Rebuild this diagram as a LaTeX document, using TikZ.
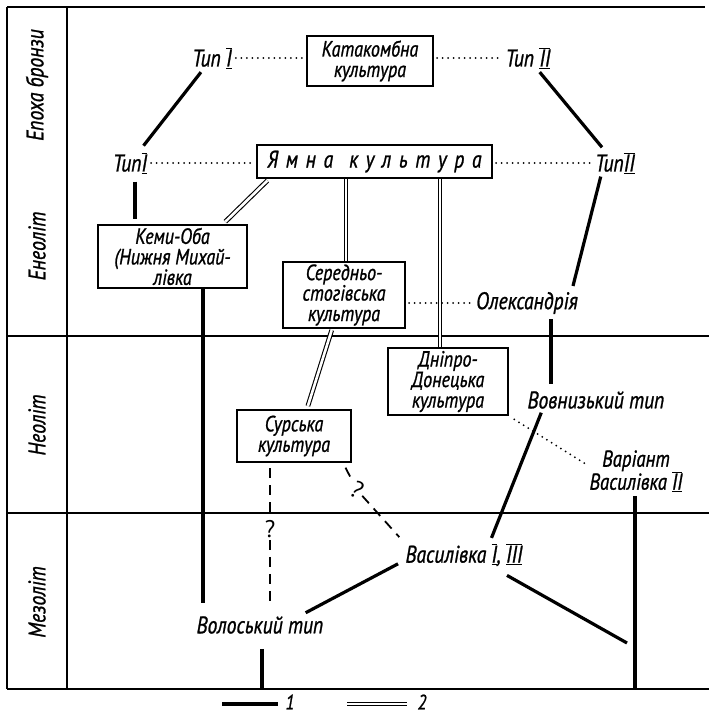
\documentclass[tikz,border=0pt]{standalone}
\usepackage{fontspec}
\setmainfont[ItalicFeatures={FakeStretch=0.82,FakeBold=1}]{PT Sans}
\usetikzlibrary{calc}
\newcommand\rnum[1]{$\overline{\underline{\hbox{#1}}}$}
\begin{document}
\begin{tikzpicture}[x=1pt,y=-1pt,
  every node/.style={font=\fontsize{24}{22}\selectfont\itshape, inner sep=2pt},
  box/.style={draw, line width=2.4pt, align=center, inner sep=0pt, font=\fontsize{22}{20.5}\selectfont\itshape\addfontfeature{FakeStretch=0.94}},
  lbl/.style={align=center, font=\fontsize{23}{23}\selectfont\itshape},
  frame/.style={line width=2.2pt},
  solidc/.style={line width=3.2pt},
  dbl/.style={double, double distance=2.6pt, line width=1.1pt},
  dotc/.style={line width=2pt, dash pattern=on 0pt off 5.5pt, line cap=round},
  dashc/.style={line width=1.8pt, dash pattern=on 10pt off 7pt},
  era/.style={rotate=90}]
\useasboundingbox (0,0) rectangle (709,716);
% frame
\draw[frame] (7,7) -- (705,7);
\draw[frame] (7,7) -- (7,689);
\draw[frame] (67,7) -- (67,689);
\draw[frame] (7,336) -- (709,336);
\draw[frame] (7,513) -- (709,513);
\draw[frame] (7,689) -- (709,689);
% eras
\node[era] (e1) at (37,85) {Епоха бронзи};
\node[era] (e2) at (37,246) {Енеоліт};
\node[era] (e3) at (37,425) {Неоліт};
\node[era] (e4) at (37,602) {Мезоліт};
% nodes
\node (t1a) at (212,58) {Тип \rnum{I}};
\node[box, minimum width=126pt, minimum height=50pt] (kat) at (370,61) {Катакомбна\\культура};
\node (t2a) at (528,58) {Тип \rnum{II}};
\node (t1b) at (130,163) {Тип\rnum{I}};
\node[box, minimum width=235pt, minimum height=33pt, font=\fontsize{24}{22}\selectfont\itshape] (yam) at (374.5,161.5) {\addfontfeature{LetterSpace=32}Ямна\hspace{16pt}культура};
\node (t2b) at (615,163) {Тип\rnum{II}};
\node[box, minimum width=149pt, minimum height=63pt] (kemi) at (172.5,256.5) {Кеми-Оба\\(Нижня Михай-\\лівка};
\node[box, minimum width=122pt, minimum height=66pt] (ser) at (344,295) {Середньо-\\стогівська\\культура};
\node (olek) at (527,303) {Олександрія};
\node[box, minimum width=120pt, minimum height=67pt] (dd) at (448,381.5) {Дніпро-\\Донецька\\культура};
\node[box, minimum width=114pt, minimum height=52pt] (sur) at (294,436) {Сурська\\культура};
\node (vovn) at (596,400) {Вовнизький тип};
\node[lbl] (var) at (636,471) {Варіант\\Василівка \rnum{II}};
\node (vas) at (464,555) {Василівка \rnum{I}, \rnum{III}};
\node (vol) at (260,625) {Волоський тип};
\node[font=\fontsize{24}{20}\selectfont] (q1) at (270,529) {?};
\node[font=\fontsize{24}{20}\selectfont, rotate=-30] (q2) at (357,490) {?};
\coordinate (kemiend) at (203,603);
\coordinate (varend) at (635,689);
\coordinate (vasend) at (627,643);
\coordinate (volend) at (262,689);
% solid connectors
\draw[solidc, shorten <=2pt, shorten >=6pt] (t1a) -- (t1b);
\draw[solidc, shorten <=2pt, shorten >=4pt] (t2a) -- (t2b);
\draw[solidc, shorten <=1pt, shorten >=4pt] ([xshift=-14pt]t2b.south) -- ([xshift=45pt]olek.north);
\draw[solidc] ([xshift=24pt,yshift=-3pt]olek.south) -- ([xshift=-45pt,yshift=5pt]vovn.north);
\draw[solidc, shorten <=6pt, shorten >=5pt] ([xshift=5pt]t1b.south) -- ([xshift=5pt]t1b.south |- kemi.north);
\draw[solidc] ([xshift=30.5pt]kemi.south) -- (kemiend);
\draw[solidc, shorten <=2pt, shorten >=4pt] ([xshift=-54pt]vovn.south) -- ([xshift=26pt]vas.north);
\draw[solidc, shorten <=2pt] (var.south -| varend) -- (varend);
\draw[solidc, shorten <=3pt, shorten >=6pt] ([xshift=43pt]vol.north) -- ([yshift=-6pt]vas.west);
\draw[solidc] ([xshift=43pt,yshift=-7pt]vas.south) -- (vasend);
\draw[solidc, shorten <=13pt] (vol.south -| volend) -- (volend);
% double connectors
\draw[dbl, shorten <=2pt, shorten >=3pt] ([xshift=13pt]yam.south west) -- ([xshift=-25pt]kemi.north east);
\draw[dbl] ([xshift=2pt]ser.north |- yam.south) -- ([xshift=2pt]ser.north);
\draw[dbl] ([xshift=-8pt]dd.north |- yam.south) -- ([xshift=-8pt]dd.north);
\draw[dbl, shorten <=1pt, shorten >=3pt] ([xshift=-12pt]ser.south) -- ([xshift=13pt]sur.north);
% dotted connectors
\draw[dotc, shorten <=2pt, shorten >=3pt] (t1a.east) -- (t1a.east -| kat.west);
\draw[dotc, shorten <=3pt, shorten >=2pt] (t2a.west -| kat.east) -- (t2a.west);
\draw[dotc, shorten <=2pt, shorten >=3pt] (t1b.east) -- (t1b.east -| yam.west);
\draw[dotc, shorten <=3pt, shorten >=2pt] (t2b.west -| yam.east) -- (t2b.west);
\draw[dotc, shorten <=3pt, shorten >=2pt] (olek.west -| ser.east) -- (olek.west);
\draw[dotc, shorten <=6pt, shorten >=2pt] (dd.south east) -- ([yshift=6pt]var.west);
% dashed connectors
\draw[dashc, shorten <=5pt] ([xshift=-24pt]sur.south) -- (q1);
\draw[dashc, shorten >=8pt] (q1) -- (q1 |- vol.north);
\draw[dashc, shorten <=5pt] ([xshift=-9pt]sur.south east) -- (q2);
\draw[dashc, shorten >=6pt] (q2) -- (vas.north west);
% legend
\coordinate (l1a) at (222,704);
\coordinate (l1b) at (278,704);
\coordinate (l2a) at (347,704);
\coordinate (l2b) at (407,704);
\draw[solidc] (l1a) -- (l1b);
\node[font=\fontsize{21}{20}\selectfont\itshape, inner sep=0pt] (n1) at (290,702) {1};
\draw[dbl] (l2a) -- (l2b);
\node[font=\fontsize{21}{20}\selectfont\itshape, inner sep=0pt] (n2) at (422,702) {2};
\end{tikzpicture}
\end{document}
